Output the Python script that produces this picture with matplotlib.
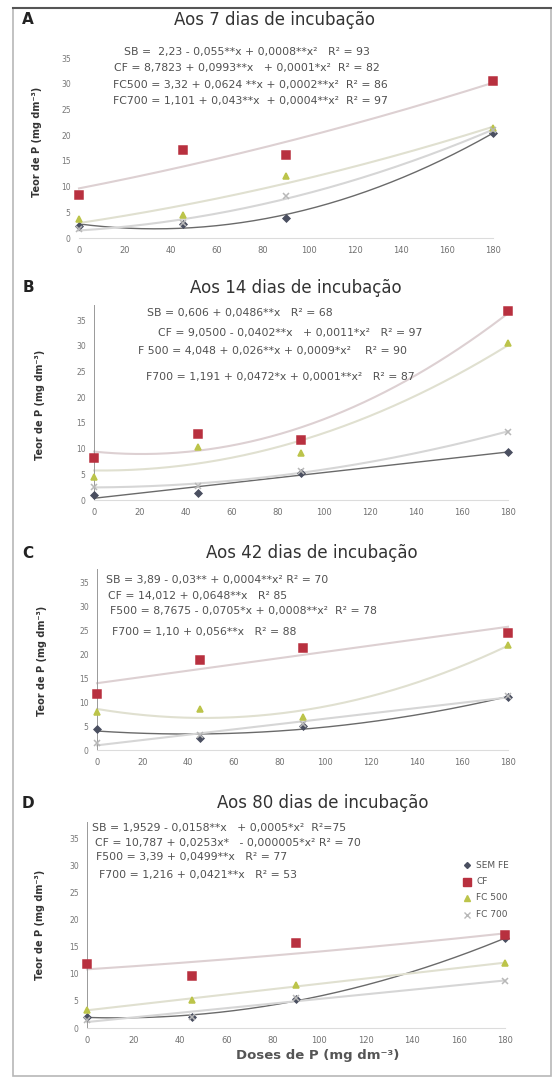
import numpy as np
import matplotlib
matplotlib.use("Agg")
import matplotlib.pyplot as plt
from matplotlib.patches import Rectangle

plt.rcParams['font.family'] = ['DejaVu Sans']

# P doses (mg dm-3)
doses = [0, 45, 90, 180]
x_ticks = [0, 20, 40, 60, 80, 100, 120, 140, 160, 180]
y_ticks = [0, 5, 10, 15, 20, 25, 30, 35]

series_names = ["SEM FE", "CF", "FC 500", "FC 700"]

# 7 days
sb_7 = [2.4, 2.8, 3.9, 20.5]
cf_7 = [8.4, 17.2, 16.2, 30.6]
fc500_7 = [3.6, 4.5, 12.0, 21.4]
fc700_7 = [1.7, 3.0, 8.1, 21.0]

# 14 days
sb_14 = [1.0, 1.4, 5.3, 9.4]
cf_14 = [8.2, 12.8, 11.7, 36.7]
fc500_14 = [4.5, 10.4, 9.1, 30.5]
fc700_14 = [2.6, 2.8, 5.6, 13.3]

# 42 days
sb_42 = [4.3, 2.5, 5.0, 11.1]
cf_42 = [11.8, 18.9, 21.4, 24.6]
fc500_42 = [7.9, 8.6, 6.9, 22.1]
fc700_42 = [1.5, 3.2, 5.4, 11.4]

# 80 days
sb_80 = [2.1, 2.0, 5.3, 16.5]
cf_80 = [11.8, 9.5, 15.7, 17.1]
fc500_80 = [3.4, 5.1, 7.9, 12.0]
fc700_80 = [1.5, 2.1, 5.5, 8.7]

eq_7 = ["SB =  2,23 - 0,055**x + 0,0008**x²   R² = 93",
        "CF = 8,7823 + 0,0993**x   + 0,0001*x²  R² = 82",
        "FC500 = 3,32 + 0,0624 **x + 0,0002**x²  R² = 86",
        "FC700 = 1,101 + 0,043**x  + 0,0004**x²  R² = 97"]
eq_14 = ["SB = 0,606 + 0,0486**x   R² = 68",
         "CF = 9,0500 - 0,0402**x   + 0,0011*x²   R² = 97",
         "F 500 = 4,048 + 0,026**x + 0,0009*x²    R² = 90",
         "F700 = 1,191 + 0,0472*x + 0,0001**x²   R² = 87"]
eq_42 = ["SB = 3,89 - 0,03** + 0,0004**x² R² = 70",
         "CF = 14,012 + 0,0648**x   R² 85",
         "F500 = 8,7675 - 0,0705*x + 0,0008**x²  R² = 78",
         "F700 = 1,10 + 0,056**x   R² = 88"]
eq_80 = ["SB = 1,9529 - 0,0158**x   + 0,0005*x²  R²=75",
         "CF = 10,787 + 0,0253x*   - 0,000005*x² R² = 70",
         "F500 = 3,39 + 0,0499**x   R² = 77",
         "F700 = 1,216 + 0,0421**x   R² = 53"]

W, H = 552, 1081
fig = plt.figure(figsize=(W / 100, H / 100), dpi=100)


def fx(px):
    return px / W


def fy(py):
    return 1 - py / H


# outer frame
fig.patches.append(Rectangle((fx(13), fy(1076)), fx(538), 1068 / H, transform=fig.transFigure,
                             fill=False, edgecolor='#b8b8b8', lw=1.2))
fig.add_artist(plt.Line2D([fx(13), fx(551)], [fy(8), fy(8)], transform=fig.transFigure,
                          color='#555555', lw=1.5))

colors = {"sb": "#4a4f60", "cf": "#b8303f", "fc500": "#bcc44a", "fc700": "#b8b8b8"}
line_colors = {"sb": "#6a6a6a", "cf": "#ddd0d2", "fc500": "#e0e0d0", "fc700": "#d6d6d6"}
markers = {"sb": "D", "cf": "s", "fc500": "^", "fc700": "x"}
msizes = {"sb": 3.5, "cf": 6, "fc500": 4.5, "fc700": 4.5}


def panel(x0, x180, y0, y35, ymax, data, degrees, title, letter, title_xy, letter_y,
          eqs, eq_pos, eq_ha, ylab_xy, show_left=True):
    scale = (y0 - y35) / 35.0
    ytop = y0 - ymax * scale
    ax = fig.add_axes([fx(x0), fy(y0), (x180 - x0) / W, (y0 - ytop) / H])
    ax.set_xlim(0, 180)
    ax.set_ylim(0, ymax)
    # quadratic / linear trend lines as in the original regressions
    for key, vals in data.items():
        coef = np.polyfit(doses, vals, degrees[key])
        xs = np.linspace(0, 180, 200)
        ax.plot(xs, np.polyval(coef, xs), color=line_colors[key],
                lw=1.0 if key == "sb" else 1.5, zorder=2, clip_on=False)
    for key, vals in data.items():
        ax.plot(doses, vals, ls='none', marker=markers[key], ms=msizes[key],
                color=colors[key], mec=colors[key], mew=1.1, zorder=3, clip_on=False)
    ax.set_xticks(x_ticks)
    ax.set_yticks(y_ticks)
    ax.tick_params(axis='x', length=0, labelsize=6, labelcolor='#707070', pad=6)
    ax.tick_params(axis='y', length=0, labelsize=5.5, labelcolor='#777777', pad=6)
    for s in ['top', 'right']:
        ax.spines[s].set_visible(False)
    ax.spines['bottom'].set_color('#dcdcdc')
    ax.spines['left'].set_color('#999999')
    ax.spines['left'].set_linewidth(0.7)
    ax.spines['left'].set_visible(show_left)
    ax.patch.set_alpha(0)

    fig.text(fx(title_xy[0]), fy(title_xy[1]), title, ha='center', va='center',
             fontsize=12, color='#333333')
    fig.text(fx(28), fy(letter_y), letter, ha='center', va='center', fontsize=11,
             fontweight='bold', color='#222222')
    for txt, (ex, ey) in zip(eqs, eq_pos):
        fig.text(fx(ex), fy(ey), txt, ha=eq_ha, va='center', fontsize=7.8, color='#505050')
    fig.text(fx(ylab_xy[0]), fy(ylab_xy[1]), "Teor de P (mg dm⁻³)", rotation=90,
             ha='center', va='center', fontsize=7, fontweight='bold', color='#333333')
    return ax


panel(79, 493, 238, 58, 35,
      {"sb": sb_7, "cf": cf_7, "fc500": fc500_7, "fc700": fc700_7},
      {"sb": 2, "cf": 2, "fc500": 2, "fc700": 2},
      "Aos 7 dias de incubação", "A", (275, 20), 20,
      eq_7, [(247, 52), (247, 68), (250, 85), (250, 101)], 'center', (37, 142),
      show_left=False)

panel(94, 508, 500, 320, 38,
      {"sb": sb_14, "cf": cf_14, "fc500": fc500_14, "fc700": fc700_14},
      {"sb": 1, "cf": 2, "fc500": 2, "fc700": 2},
      "Aos 14 dias de incubação", "B", (296, 288), 288,
      eq_14, [(240, 313), (290, 333), (273, 351), (280, 377)], 'center', (40, 405))

panel(97, 508, 750, 583, 38,
      {"sb": sb_42, "cf": cf_42, "fc500": fc500_42, "fc700": fc700_42},
      {"sb": 2, "cf": 1, "fc500": 2, "fc700": 1},
      "Aos 42 dias de incubação", "C", (312, 553), 553,
      eq_42, [(106, 580), (108, 596), (110, 611), (112, 632)], 'left', (42, 661))

panel(87, 505, 1028, 838, 38,
      {"sb": sb_80, "cf": cf_80, "fc500": fc500_80, "fc700": fc700_80},
      {"sb": 2, "cf": 2, "fc500": 1, "fc700": 1},
      "Aos 80 dias de incubação", "D", (323, 803), 803,
      eq_80, [(92, 828), (95, 843), (96, 857), (99, 875)], 'left', (40, 925))

fig.text(fx(318), fy(1056), "Doses de P (mg dm⁻³)", ha='center', va='center',
         fontsize=9.5, fontweight='bold', color='#555555')

# legend of panel D
for i, (key, name) in enumerate(zip(["sb", "cf", "fc500", "fc700"], series_names)):
    yy = 865 + i * 16.5
    fig.add_artist(plt.Line2D([fx(467)], [fy(yy)], transform=fig.transFigure, ls='none',
                              marker=markers[key], ms=msizes[key] - 0.5, color=colors[key],
                              mec=colors[key]))
    fig.text(fx(476), fy(yy), name, ha='left', va='center', fontsize=6.5, color='#555555')

fig.savefig("out.png", dpi=100)
